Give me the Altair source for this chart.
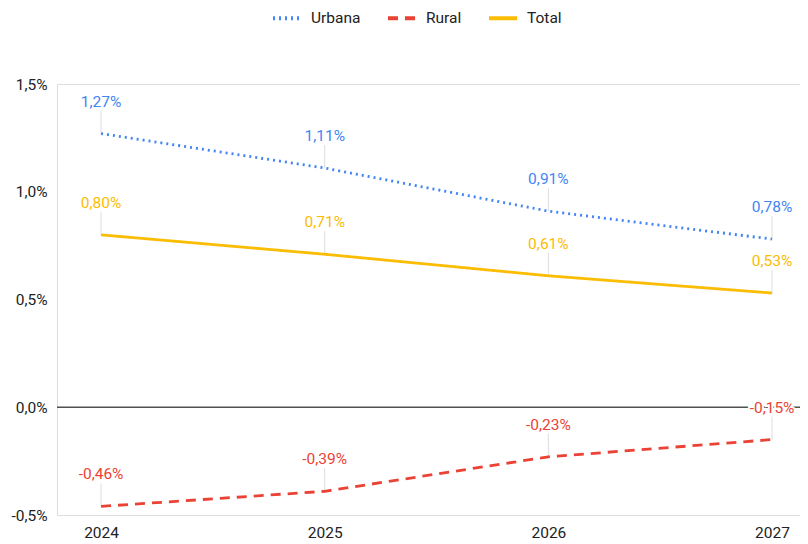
import altair as alt
import pandas as pd

years = [2024, 2025, 2026, 2027]
series_names = ["Urbana", "Rural", "Total"]
urbana = [1.27, 1.11, 0.91, 0.78]
rural = [-0.46, -0.39, -0.23, -0.15]
total = [0.80, 0.71, 0.61, 0.53]
y_ticks = [-0.5, 0.0, 0.5, 1.0, 1.5]
colors = ["#4285F4", "#EA4335", "#FBBC04"]
dashes = [[2, 4], [10, 7], [1, 0]]

rows = []
for name, vals in zip(series_names, [urbana, rural, total]):
    for yr, v in zip(years, vals):
        rows.append({"year": yr, "series": name, "value": v / 100})
df = pd.DataFrame(rows)

FONT = "Roboto"
FS = 15.5

x_enc = alt.X(
    "year:Q",
    scale=alt.Scale(domain=[2023.803, 2027.125], nice=False, zero=False),
    axis=alt.Axis(values=years, format="d", title=None, grid=False, ticks=False,
                  domain=False, labelFontSize=FS, labelColor="#222222",
                  labelFont=FONT, labelPadding=10),
)
y_enc = alt.Y(
    "value:Q",
    scale=alt.Scale(domain=[-0.005, 0.015], nice=False),
    axis=alt.Axis(values=[t / 100 for t in y_ticks],
                  labelExpr="replace(replace(format(datum.value, '.1%'), '.', ','), '\u2212', '-')",
                  title=None, domain=False, ticks=False, gridColor="#cccccc",
                  gridWidth=1, labelFontSize=FS, labelColor="#222222",
                  labelFont=FONT, labelPadding=10),
)

leg = alt.Legend(orient="none", legendX=214, legendY=-82, direction="horizontal",
                 title=None, symbolType="stroke", symbolSize=784,
                 symbolStrokeWidth=4, labelFontSize=FS, labelColor="#222222",
                 labelFont=FONT, columnPadding=19, labelOffset=8, padding=0)

color_scale = alt.Scale(domain=series_names, range=colors)

base = alt.Chart(df)

zero = alt.Chart(pd.DataFrame({"z": [0]})).mark_rule(color="#505050", strokeWidth=1.6).encode(
    y=alt.datum(0)
)

leaders = base.mark_rule(color="#dddddd", strokeWidth=1, y2Offset=-23).encode(
    x=x_enc, y=y_enc, y2=alt.Y2("value:Q")
)

lines = base.mark_line(strokeWidth=2.8).encode(
    x=x_enc, y=y_enc,
    color=alt.Color("series:N", scale=color_scale, legend=leg),
    strokeDash=alt.StrokeDash("series:N", scale=alt.Scale(domain=series_names, range=dashes), legend=leg),
    order=alt.Order("year:Q"),
)

label_calc = "replace(replace(format(datum.value, '.2%'), '.', ','), '\u2212', '-')"

halo = base.transform_calculate(lbl=label_calc).mark_text(
    dy=-32, fontSize=FS, font=FONT, stroke="white", strokeWidth=4, fill="white"
).encode(x=x_enc, y=y_enc, text="lbl:N")

labels = base.transform_calculate(lbl=label_calc).mark_text(
    dy=-32, fontSize=FS, font=FONT
).encode(x=x_enc, y=y_enc, text="lbl:N",
         color=alt.Color("series:N", scale=color_scale, legend=None))

chart = alt.layer(zero, leaders, lines, halo, labels).properties(
    width=743, height=431,
    padding={"left": 49, "top": 76, "right": 0, "bottom": 29},
    autosize=alt.AutoSizeParams(type="none"),
).configure_view(stroke=None).configure(font=FONT)

chart.save("out.html", embed_options={"renderer": "svg", "actions": False})
